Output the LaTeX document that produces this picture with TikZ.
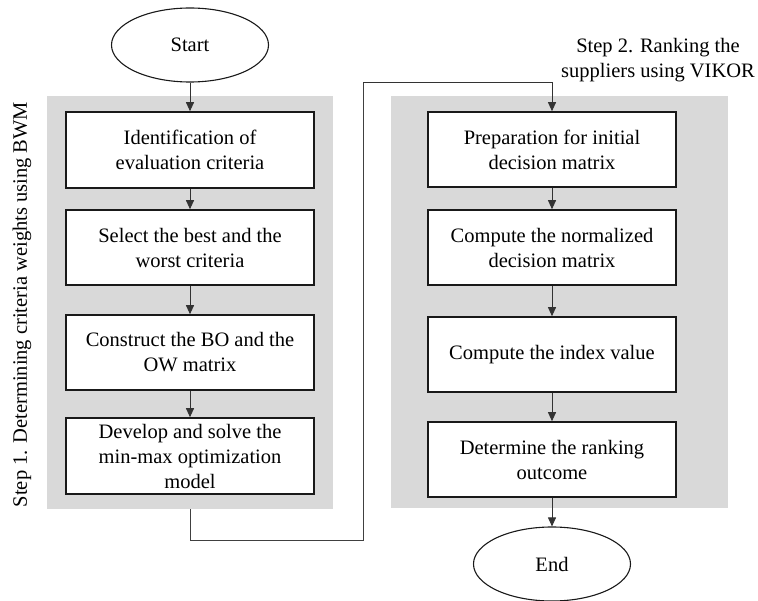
\documentclass[tikz,border=0pt]{standalone}
\usepackage{fontspec}
\setmainfont{Liberation Serif}
\usetikzlibrary{shapes.geometric,arrows.meta}
\begin{document}
\begin{tikzpicture}[x=1pt,y=-1pt,
  txt/.style={font=\fontsize{20.5}{25}\selectfont, align=center},
  panel/.style={fill=gray!30!white, draw=none, inner sep=0pt, anchor=north west},
  stepbox/.style={txt, draw=black!90, line width=1.6pt, fill=white, minimum width=248pt, minimum height=75pt, inner sep=0pt},
  term/.style={txt, ellipse, draw=black!90, line width=1.1pt, fill=white, minimum width=157pt, minimum height=74pt, inner sep=0pt},
  arr/.style={draw=black!80, line width=0.9pt, -{Triangle[length=9pt,width=8pt]}},
  conn/.style={draw=black!75, line width=0.9pt}
]
\useasboundingbox (0,0) rectangle (758,601);
% panels
\node[panel, minimum width=286pt, minimum height=413pt] (panelL) at (47,96) {};
\node[panel, minimum width=337pt, minimum height=412pt] (panelR) at (391,96) {};
% start/end
\node[term] (start) at (190,45) {Start};
\node[term] (end) at (552,564) {End};
% left boxes
\node[stepbox, minimum height=76pt] (b1) at (190,150) {Identification of\\evaluation criteria};
\node[stepbox] (b2) at (190,247.5) {Select the best and the\\worst criteria};
\node[stepbox] (b3) at (190,352.5) {Construct the BO and the\\OW matrix};
\node[stepbox, minimum height=76pt] (b4) at (190,456) {Develop and solve the\\min-max optimization\\model};
% right boxes
\node[stepbox] (b5) at (552,149.5) {Preparation for initial\\decision matrix};
\node[stepbox] (b6) at (552,247.5) {Compute the normalized\\decision matrix};
\node[stepbox] (b7) at (552,354.5) {Compute the index value};
\node[stepbox] (b8) at (552,459.5) {Determine the ranking\\outcome};
% labels
\node[txt, rotate=90] (lab1) at (22,304.5) {Step 1. Determining criteria weights using BWM};
\node[txt, baseline] (lab2) at (658,60) {Step 2. Ranking the\\suppliers using VIKOR};
% arrows
\draw[arr] (start) -- (b1);
\draw[arr] (b1) -- (b2);
\draw[arr] (b2) -- (b3);
\draw[arr] (b3) -- (b4);
\draw[arr] (b5) -- (b6);
\draw[arr] (b6) -- (b7);
\draw[arr] (b7) -- (b8);
\draw[arr] (b8) -- (end);
\coordinate (c1) at (363,540);
\coordinate (c2) at (363,82);
\draw[conn] (panelL.south) |- (c1) -- (c2);
\draw[arr] (c2) -| (b5.north);
\end{tikzpicture}
\end{document}
